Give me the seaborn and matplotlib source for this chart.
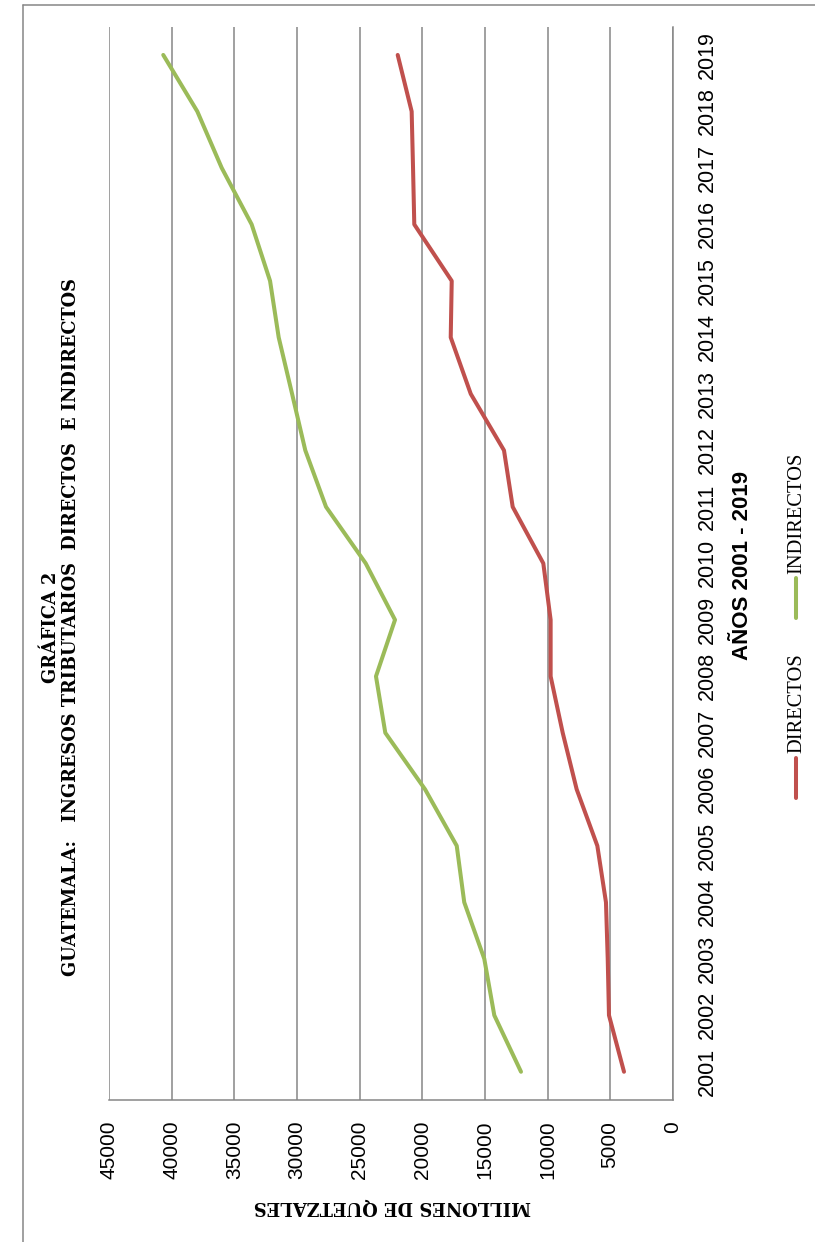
import seaborn as sns
import numpy as np
import pandas as pd
import matplotlib.pyplot as plt
from matplotlib.lines import Line2D

# data (millones de quetzales)
years = [str(y) for y in range(2001, 2020)]
directos = [3890, 5090, 5190, 5330, 6020, 7670, 8785, 9750, 9750, 10335,
            12780, 13475, 16130, 17730, 17650, 20640, 20740, 20850, 21965]
indirectos = [12117, 14250, 15050, 16650, 17250, 19780, 22955, 23700, 22180, 24520,
              27690, 29345, 30400, 31470, 32160, 33630, 36020, 37970, 40690]
value_ticks = list(range(0, 45001, 5000))
series_names = ['DIRECTOS', 'INDIRECTOS']
colors = {'DIRECTOS': '#C0504D', 'INDIRECTOS': '#9BBB59'}

sns.set_style('white')
plt.rcParams['font.family'] = ['Liberation Sans', 'DejaVu Sans']
plt.rcParams['text.color'] = 'black'
plt.rcParams['xtick.color'] = 'black'
plt.rcParams['ytick.color'] = 'black'

pos = np.arange(len(years))
df = pd.DataFrame({
    'pos': np.concatenate([pos, pos]),
    'valor': directos + indirectos,
    'serie': ['DIRECTOS'] * len(years) + ['INDIRECTOS'] * len(years),
})

W, H = 815, 1242
fig = plt.figure(figsize=(W / 100, H / 100), dpi=100)
ax = fig.add_axes([109.3 / W, 1 - 1100 / H, (672.7 - 109.3) / W, (1100 - 26.7) / H])

# chart is drawn turned a quarter turn: values run right-to-left, years bottom-to-top
sns.lineplot(data=df, x='valor', y='pos', hue='serie', palette=colors, orient='y',
             linewidth=2.9, legend=False, ax=ax,
             solid_capstyle='round', solid_joinstyle='round')

ax.set_xlim(45000, 0)
ax.set_ylim(-0.5, len(years) - 0.5)
ax.set_xlabel('')
ax.set_ylabel('')

grey = '#868686'
ax.set_xticks(value_ticks)
ax.set_xticklabels([str(v) for v in value_ticks], rotation=90, fontsize=15)
ax.grid(axis='x', color=grey, linewidth=1.1)
ax.grid(axis='y', visible=False)
ax.set_axisbelow(True)
ax.tick_params(axis='x', length=0, pad=15)

ax.yaxis.tick_right()
ax.set_yticks(pos)
ax.set_yticklabels(years, rotation=90, va='center', fontsize=15.5)
ax.tick_params(axis='y', length=0, pad=17.5)

for s in ['top', 'left']:
    ax.spines[s].set_visible(False)
for s in ['bottom', 'right']:
    ax.spines[s].set_color(grey)
    ax.spines[s].set_linewidth(1.1)

# titles
fig.text(61 / W, 1 - 627 / H,
         'GRÁFICA 2\nGUATEMALA:   INGRESOS TRIBUTARIOS  DIRECTOS  E INDIRECTOS',
         rotation=90, ha='center', va='center', multialignment='center',
         fontsize=12.8, fontweight='bold', family='DejaVu Serif', linespacing=1.15)
fig.text(742 / W, 1 - 565 / H, 'AÑOS 2001 - 2019', rotation=90, ha='center', va='center',
         fontsize=16, fontweight='bold')
fig.text(392 / W, 1 - 1206 / H, 'MILLONES DE QUETZALES', rotation=180, ha='center',
         va='center', fontsize=12.9, fontweight='bold', family='DejaVu Serif')

# legend, turned like the rest
legend_pos = {'DIRECTOS': (798, 758, 703), 'INDIRECTOS': (618, 578, 513)}
for name in series_names:
    y0, y1, yt = legend_pos[name]
    fig.add_artist(Line2D([796 / W, 796 / W], [1 - y0 / H, 1 - y1 / H],
                          color=colors[name], linewidth=2.9, solid_capstyle='round'))
    fig.text(797 / W, 1 - yt / H, name, rotation=90, ha='center', va='center',
             fontsize=14.8, family='Liberation Serif')

# outer chart frame
fig.add_artist(Line2D([22.7 / W, 22.7 / W], [0, 1 - 4.7 / H], color=grey, linewidth=1.1))
fig.add_artist(Line2D([22.7 / W, 1], [1 - 4.7 / H, 1 - 4.7 / H], color=grey, linewidth=1.1))

fig.savefig('out.png', dpi=100)
